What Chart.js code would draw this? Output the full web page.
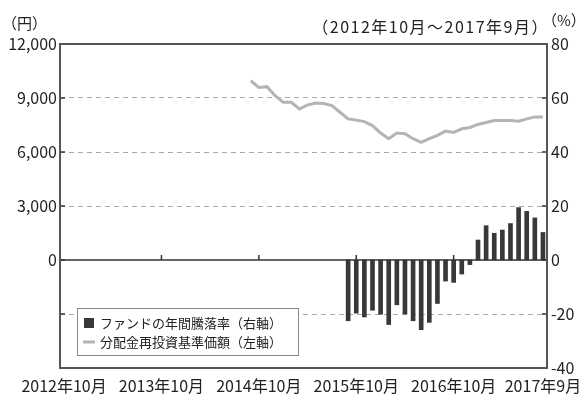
<!DOCTYPE html>
<html>
<head>
<meta charset="utf-8">
<script src="https://cdn.jsdelivr.net/npm/chart.js@4"></script>
<style>
    body { margin: 0; background: #fff; }
</style>
</head>
<body>
<canvas id="chart" width="587" height="400"></canvas>
<script>

// months are counted from 2012年10月 (index 0) to 2017年9月 (index 59)
const xTickIndex = [0, 12, 24, 36, 48, 59];
const xTickLabels = ['2012年10月', '2013年10月', '2014年10月', '2015年10月', '2016年10月', '2017年9月'];

// 分配金再投資基準価額 (円), monthly from index 23
const navStart = 23;
const navValues = [
    9960, 9590, 9630, 9130, 8760, 8760, 8390, 8610, 8720, 8690,
    8580, 8210, 7840, 7770, 7690, 7470, 7050, 6740, 7050, 7010,
    6740, 6530, 6740, 6920, 7160, 7090, 7290, 7360, 7530, 7640,
    7750, 7750, 7750, 7710, 7840, 7950, 7950
];

// ファンドの年間騰落率 (%), monthly from index 35
const returnStart = 35;
const returnValues = [
    -22.5, -19.7, -21.1, -18.6, -20.1, -23.9, -16.6, -20.0, -22.5, -25.8,
    -23.1, -16.1, -7.8, -8.3, -5.2, -1.7, 7.4, 12.7, 9.9, 11.1,
    13.5, 19.4, 18.0, 15.6, 10.2
];

const barLabel = 'ファンドの年間騰落率（右軸）';
const lineLabel = '分配金再投資基準価額（左軸）';

const fontFamily = '"Noto Sans CJK JP", "Noto Sans", sans-serif';

const data = {
    datasets: [
        {
            label: lineLabel,
            type: 'line',
            data: navValues.map((v, i) => ({ x: navStart + i, y: v })),
            yAxisID: 'y',
            borderColor: '#b4b4b4',
            backgroundColor: '#b4b4b4',
            borderWidth: 3,
            pointRadius: 0,
            tension: 0,
            order: 0
        },
        {
            label: barLabel,
            type: 'bar',
            data: returnValues.map((v, i) => ({ x: returnStart + i, y: v })),
            yAxisID: 'y1',
            backgroundColor: '#383838',
            barThickness: 4,
            order: 1
        }
    ]
};

const decorations = {
    id: 'decorations',
    beforeDraw: (chart) => {
        const ctx = chart.ctx;
        ctx.save();
        ctx.fillStyle = '#fff';
        ctx.fillRect(0, 0, chart.width, chart.height);
        ctx.restore();
    },
    afterDraw: (chart) => {
        const ctx = chart.ctx;
        const area = chart.chartArea;
        const x = chart.scales.x;
        const y = chart.scales.y;
        const y1 = chart.scales.y1;
        ctx.save();

        // zero line and year ticks on it
        const zeroY = y1.getPixelForValue(0);
        ctx.strokeStyle = '#333';
        ctx.lineWidth = 1.5;
        ctx.beginPath();
        ctx.moveTo(area.left, zeroY);
        ctx.lineTo(area.right, zeroY);
        ctx.stroke();
        [12, 24, 36, 48].forEach(function (m) {
            const px = x.getPixelForValue(m);
            ctx.beginPath();
            ctx.moveTo(px, zeroY);
            ctx.lineTo(px, zeroY - 5);
            ctx.stroke();
        });

        // inner tick marks
        y.ticks.forEach(function (t) {
            const py = y.getPixelForValue(t.value);
            ctx.beginPath();
            ctx.moveTo(area.left, py);
            ctx.lineTo(area.left + 5, py);
            ctx.stroke();
        });
        y1.ticks.forEach(function (t) {
            const py = y1.getPixelForValue(t.value);
            ctx.beginPath();
            ctx.moveTo(area.right, py);
            ctx.lineTo(area.right - 5, py);
            ctx.stroke();
        });

        // frame
        ctx.strokeStyle = '#555';
        ctx.lineWidth = 2;
        ctx.strokeRect(area.left, area.top, area.right - area.left, area.bottom - area.top);

        // x tick labels, centred on the month they mark
        ctx.fillStyle = '#222';
        ctx.textBaseline = 'middle';
        ctx.textAlign = 'center';
        ctx.font = '16px ' + fontFamily;
        xTickIndex.forEach(function (m, i) {
            ctx.fillText(xTickLabels[i], x.getPixelForValue(m), area.bottom + 18);
        });

        // unit labels
        ctx.font = '15px ' + fontFamily;
        ctx.textAlign = 'left';
        ctx.fillText('（円）', 2, 23);
        ctx.fillText('（%）', 542, 20);
        ctx.textAlign = 'right';
        ctx.font = '16px ' + fontFamily;
        ctx.letterSpacing = '1.5px';
        ctx.fillText('（2012年10月～2017年9月）', 549, 27);
        ctx.letterSpacing = '0px';

        // legend box
        const bx = area.left + 17;
        const by = area.bottom - 60;
        ctx.fillStyle = '#fff';
        ctx.fillRect(bx, by, 221, 47);
        ctx.strokeStyle = '#888';
        ctx.lineWidth = 1;
        ctx.strokeRect(bx + 0.5, by + 0.5, 221, 47);

        const bars = chart.data.datasets[1];
        const line = chart.data.datasets[0];
        ctx.fillStyle = bars.backgroundColor;
        ctx.fillRect(bx + 7, by + 10, 10, 10);
        ctx.strokeStyle = line.borderColor;
        ctx.lineWidth = 3;
        ctx.beginPath();
        ctx.moveTo(bx + 6, by + 34);
        ctx.lineTo(bx + 18, by + 34);
        ctx.stroke();

        ctx.fillStyle = '#222';
        ctx.textAlign = 'left';
        ctx.font = '13px ' + fontFamily;
        ctx.fillText(bars.label, bx + 23, by + 15);
        ctx.fillText(line.label, bx + 23, by + 34);

        ctx.restore();
    }
};

const config = {
    type: 'bar',
    data: data,
    options: {
        responsive: false,
        animation: false,
        layout: {
            padding: { top: 44, left: 0, right: 0, bottom: 0 }
        },
        plugins: {
            legend: { display: false },
            tooltip: { enabled: false }
        },
        scales: {
            x: {
                type: 'linear',
                min: -0.5,
                max: 59.5,
                offset: false,
                afterBuildTicks: function (scale) {
                    scale.ticks = xTickIndex.map(v => ({ value: v }));
                },
                afterFit: function (scale) {
                    scale.height = 32;
                },
                ticks: { display: false },
                grid: { display: false, offset: false },
                border: { display: false }
            },
            y: {
                position: 'left',
                min: -6000,
                max: 12000,
                afterBuildTicks: function (scale) {
                    scale.ticks = [-6000, -3000, 0, 3000, 6000, 9000, 12000].map(v => ({ value: v }));
                },
                afterFit: function (scale) {
                    scale.width = 60;
                },
                ticks: {
                    color: '#222',
                    padding: 3,
                    font: { family: fontFamily, size: 16 },
                    callback: function (value) {
                        return value >= 0 ? value.toLocaleString('en-US') : '';
                    }
                },
                grid: {
                    drawTicks: false,
                    lineWidth: 1,
                    color: function (c) {
                        const v = c.tick && c.tick.value;
                        return (v === 9000 || v === 6000 || v === 3000 || v === -3000) ? '#a8a8a8' : 'rgba(0,0,0,0)';
                    }
                },
                border: { display: false, dash: [5, 4] }
            },
            y1: {
                position: 'right',
                min: -40,
                max: 80,
                afterBuildTicks: function (scale) {
                    scale.ticks = [-40, -20, 0, 20, 40, 60, 80].map(v => ({ value: v }));
                },
                afterFit: function (scale) {
                    scale.width = 40;
                },
                ticks: {
                    color: '#222',
                    padding: 4,
                    font: { family: fontFamily, size: 16 }
                },
                grid: { display: false, drawTicks: false },
                border: { display: false }
            }
        }
    },
    plugins: [decorations]
};

let chart = new Chart(
    document.getElementById('chart').getContext('2d'),
    config
);
</script>
</body>
</html>
